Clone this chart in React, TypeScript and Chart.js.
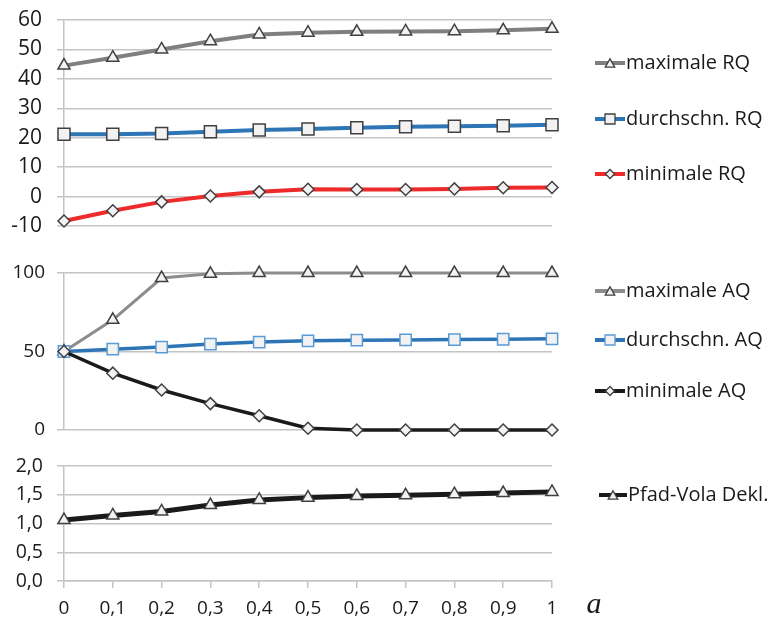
import React, { useEffect, useRef } from 'react';
import { Chart, registerables } from 'chart.js';

Chart.register(...registerables);

// ---------- data ----------
const categories = ['0', '0,1', '0,2', '0,3', '0,4', '0,5', '0,6', '0,7', '0,8', '0,9', '1'];

const maxRQ = [44.5, 47.2, 50.0, 52.8, 55.1, 55.7, 56.0, 56.1, 56.2, 56.5, 57.0];
const avgRQ = [21.2, 21.2, 21.4, 22.0, 22.6, 23.0, 23.4, 23.7, 23.9, 24.1, 24.4];
const minRQ = [-8.3, -4.8, -1.8, 0.2, 1.6, 2.5, 2.4, 2.4, 2.6, 3.0, 3.1];

const maxAQ = [50, 70.2, 96.8, 99.5, 100, 100, 100, 100, 100, 100, 100];
const avgAQ = [50, 51.5, 52.8, 54.7, 56.0, 56.8, 57.2, 57.4, 57.6, 57.8, 58.1];
const minAQ = [50, 36.2, 25.5, 16.8, 9.1, 1.1, 0, 0, 0, 0, 0];

const pfadVola = [1.06, 1.14, 1.21, 1.32, 1.41, 1.45, 1.48, 1.49, 1.51, 1.53, 1.55];

const labelsRQ = ['maximale RQ', 'durchschn. RQ', 'minimale RQ'];
const labelsAQ = ['maximale AQ', 'durchschn. AQ', 'minimale AQ'];
const labelPfad = 'Pfad-Vola Dekl.';
const axisLetter = 'a';

// ---------- styles ----------
const FONT = '"Open Sans", "Noto Sans", sans-serif';
const TEXT = '#1a1a1a';
const GRID = '#c4c4c4';
const MFILL = '#f2f2f2';
const MSTROKE = '#404040';

function drawMarker(ctx: CanvasRenderingContext2D, style: string, x: number, y: number, r: number) {
  ctx.beginPath();
  if (style === 'triangle') {
    const h = r * 0.866;
    ctx.moveTo(x, y - r * 0.75);
    ctx.lineTo(x + h, y + r * 0.75);
    ctx.lineTo(x - h, y + r * 0.75);
    ctx.closePath();
  } else if (style === 'rect') {
    ctx.rect(x - r, y - r, 2 * r, 2 * r);
  } else {
    ctx.moveTo(x - r, y);
    ctx.lineTo(x, y - r);
    ctx.lineTo(x + r, y);
    ctx.lineTo(x, y + r);
    ctx.closePath();
  }
  ctx.fill();
  ctx.stroke();
}

function legendPlugin(ys: number[], x0: number, x1: number, tx: number, extra?: (ctx: CanvasRenderingContext2D) => void) {
  return {
    id: 'customLegend',
    afterDraw(chart: any) {
      const ctx: CanvasRenderingContext2D = chart.ctx;
      ctx.save();
      chart.data.datasets.forEach((ds: any, i: number) => {
        const y = ys[i];
        ctx.strokeStyle = ds.borderColor;
        ctx.lineWidth = 4;
        ctx.beginPath();
        ctx.moveTo(x0, y);
        ctx.lineTo(x1, y);
        ctx.stroke();
        ctx.fillStyle = ds.pointBackgroundColor;
        ctx.strokeStyle = ds.pointBorderColor;
        ctx.lineWidth = 1.3;
        const r = ds.pointStyle === 'rect' ? 5 : ds.pointStyle === 'triangle' ? 5.5 : 4.5;
        drawMarker(ctx, ds.pointStyle, (x0 + x1) / 2, y, r);
        ctx.fillStyle = TEXT;
        ctx.font = `20px ${FONT}`;
        ctx.textAlign = 'left';
        ctx.textBaseline = 'middle';
        ctx.fillText(ds.label, tx, y);
      });
      if (extra) extra(ctx);
      ctx.restore();
    },
  };
}

function makeDataset(label: string, data: number[], color: string, width: number, style: string, radius: number, mStroke: string, order: number) {
  return {
    label,
    data,
    borderColor: color,
    backgroundColor: color,
    borderWidth: width,
    pointStyle: style,
    pointRadius: radius,
    pointHoverRadius: radius,
    pointBackgroundColor: MFILL,
    pointBorderColor: mStroke,
    pointBorderWidth: 1.5,
    tension: 0,
    clip: false,
    order,
  };
}

function yAxis(min: number, max: number, step: number, size: number, padding: number, fmt?: (v: number) => string) {
  return {
    min,
    max,
    ticks: {
      stepSize: step,
      autoSkip: false,
      font: { family: FONT, size },
      color: TEXT,
      padding,
      callback: (v: any) => (fmt ? fmt(Number(v)) : String(v)),
    },
    grid: { color: GRID, lineWidth: 1.5, tickLength: 7, drawTicks: true },
    border: { display: true, color: GRID, width: 1.5 },
    afterFit: (s: any) => {
      s.width = 64;
      s.paddingTop = 0;
      s.paddingBottom = 0;
    },
  };
}

function baseOptions(padding: any, y: any, x: any) {
  return {
    responsive: false,
    animation: false as const,
    devicePixelRatio: 1,
    layout: { padding },
    plugins: { legend: { display: false }, tooltip: { enabled: false } },
    events: [],
    scales: { x, y },
  };
}

function hiddenX() {
  return { type: 'category', offset: false, display: false };
}

function useChart(ref: React.RefObject<HTMLCanvasElement | null>, build: () => any) {
  useEffect(() => {
    if (!ref.current) return;
    const chart = new Chart(ref.current, build());
    return () => chart.destroy();
  }, []);
}

export default function App() {
  const refA = useRef<HTMLCanvasElement>(null);
  const refB = useRef<HTMLCanvasElement>(null);
  const refC = useRef<HTMLCanvasElement>(null);

  useChart(refA, () => ({
    type: 'line',
    data: {
      labels: categories,
      datasets: [
        makeDataset(labelsRQ[0], maxRQ, '#7f7f7f', 4, 'triangle', 7, MSTROKE, 2),
        makeDataset(labelsRQ[1], avgRQ, '#2e75b6', 4, 'rect', 8.5, MSTROKE, 1),
        makeDataset(labelsRQ[2], minRQ, '#ee2b2b', 4, 'rectRot', 6, MSTROKE, 0),
      ],
    },
    options: baseOptions({ top: 20, bottom: 14, left: 0, right: 222 }, yAxis(-10, 60, 10, 21, 15), hiddenX()),
    plugins: [legendPlugin([63, 119, 174], 595, 625, 626)],
  }));

  useChart(refB, () => ({
    type: 'line',
    data: {
      labels: categories,
      datasets: [
        makeDataset(labelsAQ[0], maxAQ, '#8c8c8c', 3, 'triangle', 7, MSTROKE, 2),
        makeDataset(labelsAQ[1], avgAQ, '#2e75b6', 3.5, 'rect', 8, '#5b9bd5', 1),
        makeDataset(labelsAQ[2], minAQ, '#1a1a1a', 3.5, 'rectRot', 6, MSTROKE, 0),
      ],
    },
    options: baseOptions({ top: 33, bottom: 25, left: 0, right: 222 }, yAxis(0, 100, 50, 19, 12), hiddenX()),
    plugins: [legendPlugin([51, 100, 151], 595, 625, 626)],
  }));

  useChart(refC, () => ({
    type: 'line',
    data: {
      labels: categories,
      datasets: [makeDataset(labelPfad, pfadVola, '#1a1a1a', 5, 'triangle', 7, MSTROKE, 0)],
    },
    options: baseOptions(
      { top: 11, bottom: 0, left: 0, right: 222 },
      yAxis(0, 2, 0.5, 19.5, 14, (v) => v.toFixed(1).replace('.', ',')),
      {
        type: 'category',
        offset: false,
        grid: { display: true, drawOnChartArea: false, drawTicks: true, tickLength: 7, color: GRID, lineWidth: 1.5 },
        border: { display: true, color: GRID, width: 1.5 },
        ticks: { font: { family: FONT, size: 19 }, color: TEXT, padding: 9, maxRotation: 0, autoSkip: false },
        afterFit: (s: any) => {
          s.height = 38;
          s.paddingLeft = 0;
          s.paddingRight = 0;
        },
      }
    ),
    plugins: [
      legendPlugin([40], 599, 627, 628, (ctx) => {
        ctx.fillStyle = TEXT;
        ctx.font = 'italic 30px "Liberation Serif", "DejaVu Serif", serif';
        ctx.textAlign = 'center';
        ctx.textBaseline = 'alphabetic';
        ctx.fillText(axisLetter, 594, 158);
      }),
    ],
  }));

  return (
    <div style={{ position: 'fixed', left: 0, top: 0, width: 774, height: 619, background: '#fff' }}>
      <canvas ref={refA} width={774} height={240} style={{ position: 'absolute', left: 0, top: 0, display: 'block' }} />
      <canvas ref={refB} width={774} height={215} style={{ position: 'absolute', left: 0, top: 240, display: 'block' }} />
      <canvas ref={refC} width={774} height={164} style={{ position: 'absolute', left: 0, top: 455, display: 'block' }} />
    </div>
  );
}
